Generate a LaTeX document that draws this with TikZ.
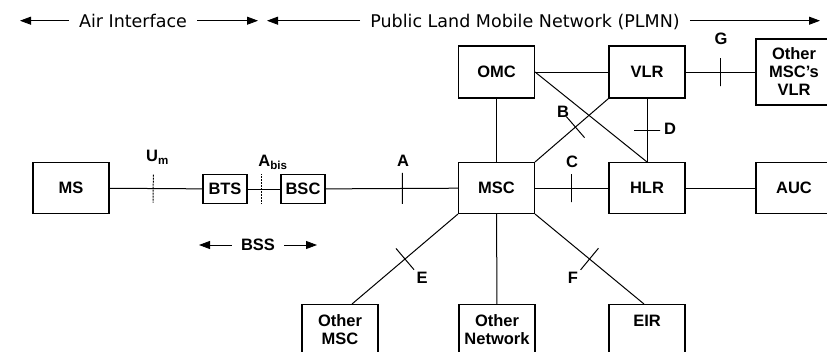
\documentclass[tikz,border=0pt]{standalone}
\usepackage{fontspec}
\setmainfont{Liberation Sans}
\newfontfamily\headfont{DejaVu Sans}
\usetikzlibrary{arrows.meta}
\begin{document}
\begin{tikzpicture}[x=1pt,y=-1pt,
    box/.style={draw,line width=1.1pt,minimum width=76pt,minimum height=51pt,align=center,
      font=\bfseries\fontsize{16.5}{18}\selectfont},
    smallbox/.style={box,minimum width=44pt,minimum height=29pt,inner sep=1pt},
    lbl/.style={font=\bfseries\fontsize{16.5}{18}\selectfont,inner sep=0pt,text height=11.8pt,text depth=0pt},
    head/.style={font=\headfont\fontsize{17.5}{20}\selectfont,text height=14pt,text depth=0pt,inner xsep=10pt},
    tick/.style={draw,line width=1pt,sloped,inner sep=0pt,minimum width=0pt,minimum height=28pt},
    dottick/.style={tick,dotted},
    span/.style={-{Triangle[length=11pt,width=8pt]},line width=0.8pt}]
  \useasboundingbox (0,0) rectangle (827,351);
  % header
  \node[head] (air) at (133,20.7) {Air Interface};
  \node[head] (plmn) at (525,20.7) {Public Land Mobile Network (PLMN)};
  \coordinate (airL) at (20,20.7);
  \coordinate (airR) at (258,20.7);
  \coordinate (plmnL) at (267,20.7);
  \coordinate (plmnR) at (820,20.7);
  \draw[span] (air) -- (airL);
  \draw[span] (air) -- (airR);
  \draw[span] (plmn) -- (plmnL);
  \draw[span] (plmn) -- (plmnR);
  % network elements
  \begin{scope}[every node/.style={box}]
    \node (ms) at (71,188) {MS};
    \node[smallbox] (bts) at (225,189) {BTS};
    \node[smallbox] (bsc) at (303,189) {BSC};
    \node (msc) at (496.5,188) {MSC};
    \node (hlr) at (647,188) {HLR};
    \node (auc) at (794,188) {AUC};
    \node[minimum height=52pt] (omc) at (496.5,72) {OMC};
    \node[minimum height=52pt] (vlr) at (647,72) {VLR};
    \node[minimum height=66pt] (ovlr) at (794,72) {Other\\MSC’s\\VLR};
    \node[anchor=north] (omsc) at (340,304) {Other\\MSC};
    \node[anchor=north] (onet) at (497,304) {Other\\Network};
    \node[anchor=north,text depth=19pt] (eir) at (647,304) {EIR};
  \end{scope}
  % interfaces
  \begin{scope}[every edge/.style={draw,line width=1pt}]
    \path (ms) edge node[dottick,pos=.47] {} (bts);
    \path (bts) edge node[dottick,pos=.41,minimum height=30pt] {} (bsc);
    \path (bsc) edge node[tick,pos=.58,minimum height=31pt] {} (msc);
    \path (msc) edge node[tick] {} (hlr);
    \path (hlr) edge (auc);
    \path (omc) edge (vlr);
    \path (omc.east) edge (hlr.north);
    \path (omc) edge (msc);
    \path (vlr.south west) edge node[tick,pos=.45] {} (msc.north east);
    \path (vlr) edge node[tick,minimum height=26pt] {} (hlr);
    \path (vlr) edge node[tick] {} (ovlr);
    \path (msc.south west) edge node[tick] {} ([xshift=12pt]omsc.north);
    \path (msc) edge (onet);
    \path (msc.south east) edge node[tick] {} ([xshift=-3pt]eir.north);
  \end{scope}
  % labels
  \begin{scope}[every node/.style={lbl}]
    \node (lblUm) at (157.5,156) {U\textsubscript{m}};
    \node (lblAbis) at (273,161) {A\textsubscript{bis}};
    \node (lblA) at (403,160.5) {A};
    \node (lblB) at (563,112) {B};
    \node (lblC) at (572,162) {C};
    \node (lblD) at (670,128.5) {D};
    \node (lblE) at (422,278) {E};
    \node (lblF) at (573,278) {F};
    \node (lblG) at (721,38.5) {G};
    \node[inner xsep=9pt] (bss) at (258,245) {BSS};
  \end{scope}
  \coordinate (bssL) at (199,245);
  \coordinate (bssR) at (317,245);
  \draw[span] (bss) -- (bssL);
  \draw[span] (bss) -- (bssR);
\end{tikzpicture}
\end{document}
